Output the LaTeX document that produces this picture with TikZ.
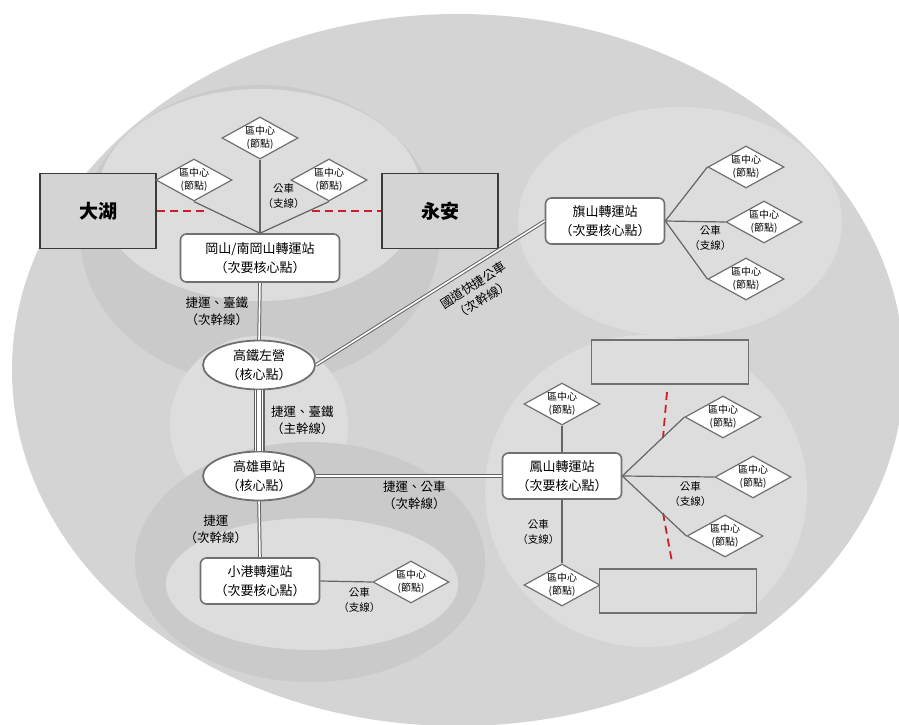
\documentclass[tikz,border=0pt]{standalone}
\usepackage{fontspec}
\setmainfont{Noto Sans CJK TC}
\usepackage{tikz}
\usetikzlibrary{shapes,positioning}
\usepackage{xcolor}
\definecolor{areagray}{RGB}{212,212,212}
\definecolor{areadark}{RGB}{202,202,202}
\definecolor{arealight}{RGB}{221,221,221}
\definecolor{linegray}{RGB}{100,100,100}
\definecolor{boxgray}{RGB}{112,112,112}
\definecolor{towngray}{RGB}{58,58,58}
\definecolor{cutred}{RGB}{200,32,38}
\newcommand{\hubtext}{區中心\\(節點)}
\tikzstyle{station} = [rectangle, rounded corners=6pt, draw=boxgray, line width=1.6pt, fill=white, minimum width=119pt, minimum height=46pt, inner sep=0pt, align=center, font=\fontsize{13}{19}\selectfont]
\tikzstyle{core} = [ellipse, draw=boxgray, line width=1.8pt, fill=white, minimum width=112pt, minimum height=49pt, inner sep=0pt, align=center, font=\fontsize{13}{19}\selectfont]
\tikzstyle{hub} = [diamond, draw=boxgray, line width=1.2pt, fill=white, minimum width=76pt, minimum height=42pt, inner sep=0pt, label={[align=center, inner sep=0pt, font=\fontsize{10}{13.5}\selectfont]center:\hubtext}]
\tikzstyle{town} = [rectangle, draw=towngray, line width=1.8pt, fill=areagray, minimum width=116pt, minimum height=75pt, font=\fontsize{19}{22}\selectfont\bfseries]
\tikzstyle{blank} = [rectangle, draw=boxgray, line width=1.6pt, fill=arealight, minimum width=157pt, minimum height=44pt]
\tikzstyle{trunklbl} = [align=center, inner sep=1pt, font=\fontsize{12.5}{17}\selectfont]
\tikzstyle{buslbl} = [align=center, inner sep=1pt, font=\fontsize{10.5}{15}\selectfont]
\tikzstyle{bus} = [draw=linegray, line width=1.2pt]
\tikzstyle{second} = [draw=linegray, line width=1pt, double=white, double distance=1.6pt]
\tikzstyle{trunk} = [draw=linegray, line width=11pt, postaction={draw=white, line width=8.6pt}, postaction={draw=linegray, line width=5.8pt}, postaction={draw=white, line width=3.4pt}]
\tikzstyle{cutline} = [draw=cutred, line width=1.8pt, dash pattern=on 8pt off 5pt]

\begin{document}
\begin{tikzpicture}[x=1pt, y=-1pt]
% Canvas
\useasboundingbox (0,0) rectangle (899,725);
\fill[white] (0,0) rectangle (899,725);

% Service areas
\fill[areagray] (458,370) ellipse (446 and 356);
\fill[areadark] (260,235) ellipse (180 and 150);
\fill[arealight] (260,195) ellipse (162 and 106);
\fill[arealight] (259,425) circle (89);
\fill[areadark] (310,562) ellipse (175 and 120);
\fill[arealight] (312,584) ellipse (146 and 66);
\fill[arealight] (680,222) ellipse (162 and 115);
\fill[arealight] (646,491) ellipse (161 and 156);

% Towns
\node[town] (dahu) at (98,211) {大湖};
\node[town] (yongan) at (440,211) {永安};

% Cores
\node[core] (hsr) at (259,365) {高鐵左營\\（核心點）};
\node[core] (main) at (259,476) {高雄車站\\（核心點）};

% Secondary cores
\node[station, minimum width=159pt, minimum height=48pt] (gs) at (260,258) {岡山/南岡山轉運站\\（次要核心點）};
\node[station] (qs) at (605,221) {旗山轉運站\\（次要核心點）};
\node[station] (fs) at (562,476) {鳳山轉運站\\（次要核心點）};
\node[station] (xg) at (260,581) {小港轉運站\\（次要核心點）};

% District centers
\node[hub] (gsn) at (260,138) {};
\node[hub] (gsw) at (194,180) {};
\node[hub] (gse) at (329,180) {};
\node[hub] (qsn) at (746,167) {};
\node[hub] (qse) at (764,222) {};
\node[hub] (qss) at (746,279) {};
\node[hub] (fsn) at (562,404) {};
\node[hub] (fsne) at (723,417) {};
\node[hub] (fse) at (753,477) {};
\node[hub] (fsse) at (725,536) {};
\node[hub] (fss) at (562,585) {};
\node[hub] (xge) at (411,582) {};

% Empty boxes
\node[blank] (blanka) at (670,362) {};
\node[blank] (blankb) at (678,591) {};

% Red cut lines
\coordinate (cutw) at (208,211);
\coordinate (cute) at (312,211);
\coordinate (cuta) at (667,392);
\coordinate (cutb) at (663,438);
\coordinate (cutc) at (663,513);
\coordinate (cutd) at (672,562);
\draw[cutline] (dahu.east) -- (cutw);
\draw[cutline] (cute) -- (yongan.west);
\draw[cutline] (cuta) -- (cutb);
\draw[cutline] (cutc) -- (cutd);

% Trunk and secondary lines
\draw[trunk] (hsr.south) -- (main.north);
\path (hsr.south) -- node[trunklbl, right=11pt] (mainlbl) {捷運、臺鐵\\（主幹線）} (main.north);
\draw[second] (gs.south) -- node[trunklbl, left=10pt] (gslbl) {捷運、臺鐵\\（次幹線）} (hsr.north);
\draw[second] (hsr.east) -- node[trunklbl, sloped, below=9pt, pos=0.65] (gdlbl) {國道快捷公車\\（次幹線）} (qs.west);
\draw[second] (main.east) -- node[trunklbl, below=3pt, pos=0.53] (fslbl) {捷運、公車\\（次幹線）} (fs.west);
\draw[second] (main.south) -- node[trunklbl, left=11pt] (xglbl) {捷運\\（次幹線）} (xg.north);

% Bus lines
\draw[bus] (gsn.south) -- node[buslbl, right=1pt] (gsbus) {公車\\（支線）} (gs.north);
\draw[bus] (gsw.south) -- (gs.north);
\draw[bus] (gse.south) -- (gs.north);
\draw[bus] (qs.east) -- (qsn.west);
\draw[bus] (qs.east) -- node[buslbl, below=2pt, pos=0.75] (qsbus) {公車\\（支線）} (qse.west);
\draw[bus] (qs.east) -- (qss.west);
\draw[bus] (fsn.south) -- (fs.north);
\draw[bus] (fs.east) -- (fsne.west);
\draw[bus] (fs.east) -- node[buslbl, below=3pt, pos=0.74] (fsbus) {公車\\（支線）} (fse.west);
\draw[bus] (fs.east) -- (fsse.west);
\draw[bus] (fs.south) -- node[buslbl, left=1pt] (fssbus) {公車\\（支線）} (fss.north);
\draw[bus] (xg.east) -- node[buslbl, below=4pt, pos=0.75] (xgbus) {公車\\（支線）} (xge.west);
\end{tikzpicture}
\end{document}
